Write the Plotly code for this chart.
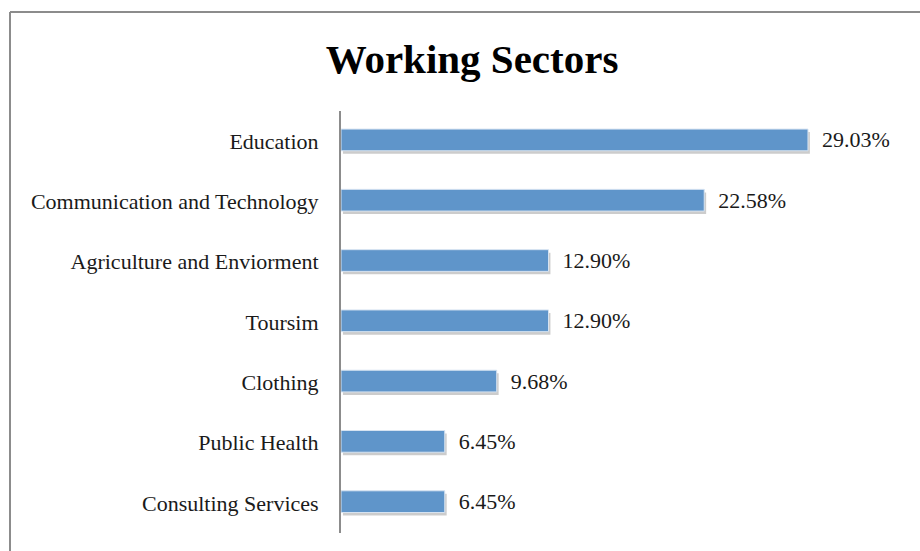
import plotly.graph_objects as go

# Share of respondents by working sector (%)
sectors = [
    "Education",
    "Communication and Technology",
    "Agriculture and Enviorment",
    "Toursim",
    "Clothing",
    "Public Health",
    "Consulting Services",
]
shares = [29.03, 22.58, 12.90, 12.90, 9.68, 6.45, 6.45]
share_labels = ["29.03%", "22.58%", "12.90%", "12.90%", "9.68%", "6.45%", "6.45%"]

BAR_BLUE = "#5F95CA"
AXIS_GRAY = "#8C8C8C"
SERIF = "Liberation Serif, Times New Roman, serif"

W, H = 920, 551
ML, MR, MT, MB = 341, 16, 111, 18
PW, PH = W - ML - MR, H - MT - MB


def px_x(p):
    return (p - ML) / PW


def px_y(p):
    return (H - MB - p) / PH


fig = go.Figure()

# soft drop shadow under each bar
fig.add_trace(go.Bar(
    y=sectors, x=shares, base=0.12, orientation="h",
    width=0.36, offset=-0.15,
    marker=dict(color="rgba(0,0,0,0.20)", line=dict(width=0)),
    hoverinfo="skip", showlegend=False,
))

fig.add_trace(go.Bar(
    y=sectors, x=shares, orientation="h",
    width=0.36, offset=-0.2,
    marker=dict(color=BAR_BLUE, line=dict(color="#D6E3F1", width=1)),
    text=["\u00a0\u00a0" + s for s in share_labels], textposition="outside",
    cliponaxis=False, constraintext="none",
    textfont=dict(family=SERIF, size=22, color="#1a1a1a"),
    showlegend=False,
))

# outer frame of the chart area
fig.add_shape(type="line", xref="paper", yref="paper",
              x0=px_x(10), x1=px_x(10), y0=px_y(12), y1=px_y(H + 20),
              line=dict(color=AXIS_GRAY, width=2))
fig.add_shape(type="line", xref="paper", yref="paper",
              x0=px_x(10), x1=px_x(W + 20), y0=px_y(12), y1=px_y(12),
              line=dict(color=AXIS_GRAY, width=2))

fig.update_layout(
    width=W, height=H,
    margin=dict(l=ML, r=MR, t=MT, b=MB),
    paper_bgcolor="white", plot_bgcolor="white",
    barmode="overlay",
    title=dict(text="<b>Working Sectors</b>", x=472 / W, xref="container", xanchor="center",
               y=1 - 59 / H, yref="container", yanchor="middle",
               font=dict(family=SERIF, size=41, color="black")),
    xaxis=dict(range=[0, 35], visible=False, fixedrange=True),
    yaxis=dict(autorange="reversed", showline=True, linecolor=AXIS_GRAY, linewidth=2,
               showgrid=False, ticks="", ticklabelstandoff=16,
               tickfont=dict(family=SERIF, size=22, color="#1a1a1a")),
)

fig.write_html("out.html")
